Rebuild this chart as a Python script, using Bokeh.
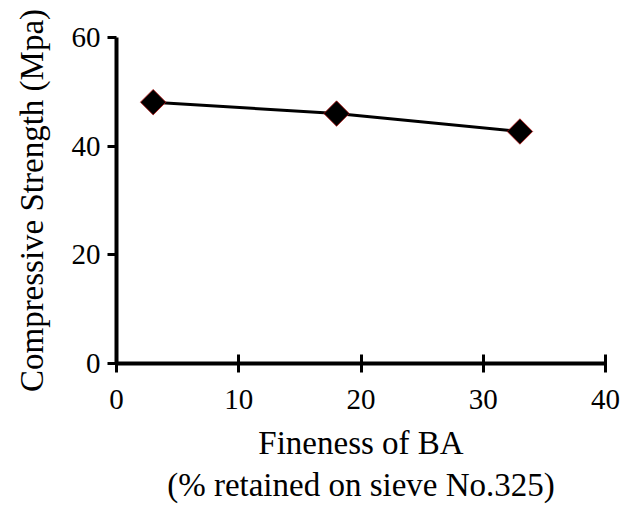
import math
from bokeh.plotting import figure
from bokeh.models import Range1d, Title, FixedTicker
from bokeh.embed import file_html
from bokeh.resources import INLINE

# Data
fineness = [3, 18, 33]
strength = [48.1, 46.0, 42.7]
x_ticks = [0, 10, 20, 30, 40]
y_ticks = [0, 20, 40, 60]
x_title_1 = "Fineness of BA"
x_title_2 = "(% retained on sieve No.325)"
y_title = "Compressive Strength (Mpa)"

FONT = "Liberation Serif"

p = figure(width=621, height=507, output_backend="svg", toolbar_location=None,
           x_range=Range1d(0, 40), y_range=Range1d(0, 60),
           min_border_left=116, min_border_right=16, min_border_top=37, min_border_bottom=144)
p.outline_line_color = None
p.grid.visible = False
p.background_fill_color = "white"
p.border_fill_color = "white"

for ax in (p.xaxis[0], p.yaxis[0]):
    ax.axis_line_width = 4
    ax.axis_line_color = "black"
    ax.major_tick_line_width = 3
    ax.major_tick_line_color = "black"
    ax.minor_tick_line_color = None
    ax.major_label_text_font = FONT
    ax.major_label_text_font_size = "29px"
    ax.major_label_text_color = "black"

p.xaxis[0].ticker = FixedTicker(ticks=x_ticks)
p.yaxis[0].ticker = FixedTicker(ticks=y_ticks)
p.xaxis[0].major_tick_in = 9
p.xaxis[0].major_tick_out = 9
p.xaxis[0].major_label_standoff = 17
p.yaxis[0].major_tick_in = 0
p.yaxis[0].major_tick_out = 9
p.yaxis[0].major_label_standoff = 7

p.yaxis[0].axis_label = y_title
p.yaxis[0].axis_label_text_font = FONT
p.yaxis[0].axis_label_text_font_size = "33px"
p.yaxis[0].axis_label_text_font_style = "normal"
p.yaxis[0].axis_label_text_color = "black"
p.yaxis[0].axis_label_standoff = 19

p.line(fineness, strength, line_color="black", line_width=3)
p.scatter(fineness, strength, marker="square", angle=math.pi / 4, size=18,
          fill_color="black", line_color="#b01010", line_width=0.8)

t1 = Title(text=x_title_1, align="center", text_font=FONT, text_font_size="33px",
           text_font_style="normal", text_color="black", standoff=22)
t2 = Title(text=x_title_2, align="center", offset=11, text_font=FONT, text_font_size="33px",
           text_font_style="normal", text_color="black", standoff=-13)
p.add_layout(t1, "below")
p.add_layout(t2, "below")

open("out.html", "w").write(file_html(p, INLINE))
